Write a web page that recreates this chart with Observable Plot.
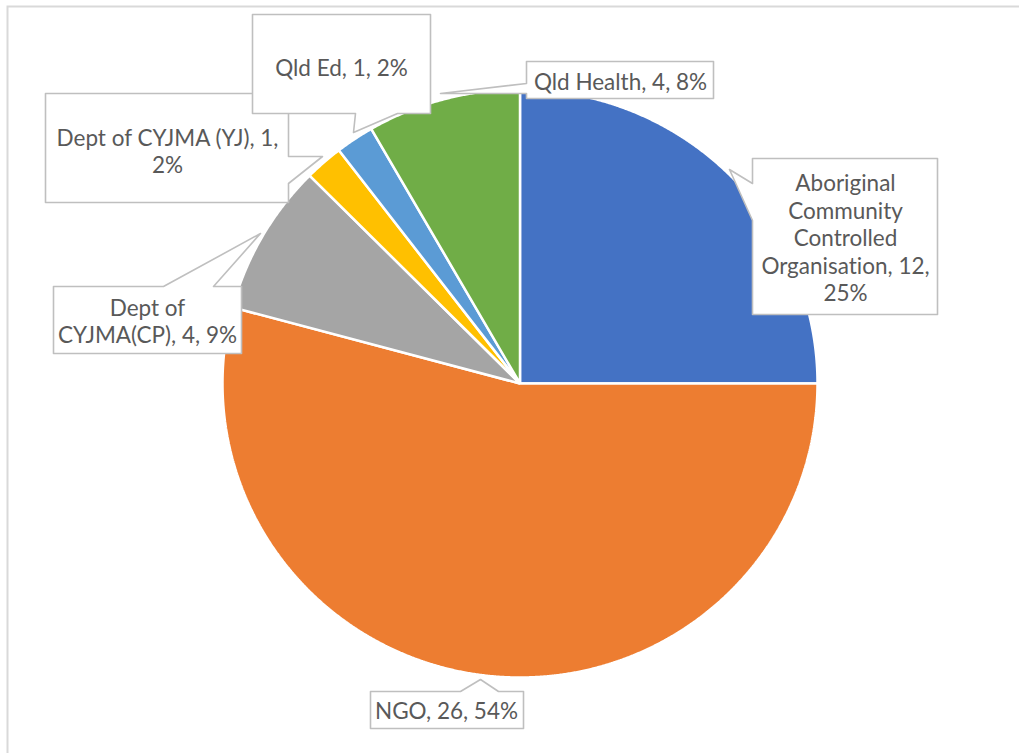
<!DOCTYPE html>
<html><head><meta charset="utf-8">
<script src="https://cdn.jsdelivr.net/npm/d3@7"></script>
<script src="https://cdn.jsdelivr.net/npm/@observablehq/plot@0.6"></script>
<style>html,body{margin:0;padding:0;background:#fff;overflow:hidden} svg text{font-variant-ligatures:none}</style>
</head><body><div id="chart"></div>
<script>
// ---- data ----
const categories = ["Aboriginal Community Controlled Organisation", "NGO", "Dept of CYJMA(CP)", "Dept of CYJMA (YJ)", "Qld Ed", "Qld Health"];
const counts = [12, 26, 4, 1, 1, 4];
const percents = [25, 54, 9, 2, 2, 8];
const colors = ["#4472C4", "#ED7D31", "#A5A5A5", "#FFC000", "#5B9BD5", "#70AD47"];

// ---- layout (pixels) ----
const W = 1019, H = 753;
const pieCenter = [519.5, 383], pieRadius = [297.5, 294];
const wrapChars = [17, 40, 17, 22, 40, 40];
const labelCenters = [[845, 237], [446, 710], [147, 320], [167, 150], [341, 67], [620, 81]];
const callouts = [
  [[752,158],[937,158],[937,314],[752,314],[752,220],[729,169],[752,183]],
  [[370,691],[460,691],[480,679],[498,691],[523,691],[523,728],[370,728]],
  [[53,286],[163,286],[260,233],[213,286],[241,286],[241,353],[53,353]],
  [[45,93],[288,93],[288,156],[322,156],[288,183],[288,202],[45,202]],
  [[252,14],[430,14],[430,113],[397,113],[353,132],[355,113],[252,113]],
  [[526,61],[713,61],[713,98],[526,98],[526,93],[440,93],[526,83]]
];

function wrap(text, n) {
  const words = text.split(" "); const lines = []; let cur = "";
  for (const w of words) {
    if (!cur) cur = w;
    else if ((cur + " " + w).length <= n) cur += " " + w;
    else { lines.push(cur); cur = w; }
  }
  if (cur) lines.push(cur);
  return lines.join("\n");
}

const arcs = d3.pie().sort(null).value(d => d)(counts);
const slicePts = [];
arcs.forEach((a, i) => {
  const name = categories[i];
  slicePts.push({name, x: pieCenter[0], y: pieCenter[1]});
  const steps = Math.max(2, Math.ceil((a.endAngle - a.startAngle) / 0.004));
  for (let k = 0; k <= steps; k++) {
    const t = a.startAngle + (a.endAngle - a.startAngle) * k / steps;
    slicePts.push({name, x: pieCenter[0] + pieRadius[0] * Math.sin(t), y: pieCenter[1] - pieRadius[1] * Math.cos(t)});
  }
});

const calloutPts = [];
callouts.forEach((poly, i) => poly.forEach(([x, y]) => calloutPts.push({id: i, x, y})));

const labels = categories.map((c, i) => ({
  text: wrap(`${c}, ${counts[i]}, ${percents[i]}%`, wrapChars[i]),
  x: labelCenters[i][0], y: labelCenters[i][1]
}));

const chart = Plot.plot({
  width: W, height: H,
  margin: 0,
  style: {background: "#fff", overflow: "hidden"},
  x: {domain: [0, W], range: [0, W], axis: null},
  y: {domain: [0, H], range: [0, H], axis: null},
  color: {domain: categories, range: colors},
  marks: [
    Plot.frame({stroke: "#D9D9D9", strokeWidth: 2, insetLeft: 7, insetTop: 6, insetRight: -20, insetBottom: -20}),
    Plot.line(slicePts, {x: "x", y: "y", z: "name", fill: "name", stroke: "white", strokeWidth: 2.5, strokeLinejoin: "miter", curve: "linear-closed"}),
    Plot.line(calloutPts, {x: "x", y: "y", z: "id", fill: "white", stroke: "#BFBFBF", strokeWidth: 1.6, curve: "linear-closed"}),
    Plot.text(labels, {x: "x", y: "y", text: "text", fill: "#595959", fontSize: 22.5, fontFamily: "Lato, Carlito, sans-serif", lineHeight: 1.22, textAnchor: "middle", lineAnchor: "middle"})
  ]
});
document.getElementById("chart").appendChild(chart);
</script>
</body></html>
